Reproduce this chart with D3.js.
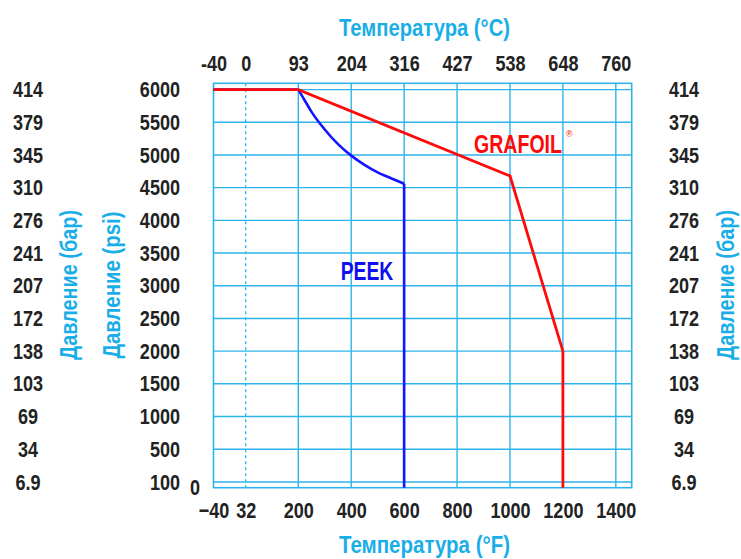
<!DOCTYPE html>
<html>
<head>
<meta charset="utf-8">
<script src="https://cdn.jsdelivr.net/npm/d3@7"></script>
<style>
body { margin: 0; background: #fff; }
text { font-family: "Liberation Sans", Arial, sans-serif; font-weight: bold; }
</style>
</head>
<body>
<div id="chart"></div>
<script>
// temperature ticks (F) and matching celsius labels on top
var temp_f_ticks = [-40, 32, 200, 400, 600, 800, 1000, 1200, 1400];
var temp_c_labels = ["-40", "0", "93", "204", "316", "427", "538", "648", "760"];

// pressure ticks (psi) and matching bar labels
var psi_ticks = [6000, 5500, 5000, 4500, 4000, 3500, 3000, 2500, 2000, 1500, 1000, 500, 100];
var bar_labels = ["414", "379", "345", "310", "276", "241", "207", "172", "138", "103", "69", "34", "6.9"];

// GRAFOIL limit
var grafoil_f = [-40, 200, 1000, 1200, 1200];
var grafoil_psi = [6000, 6000, 4680, 2000, 0];

// PEEK limit
var peek_f = [-40, 200, 225, 250, 300, 350, 400, 450, 500, 550, 600, 600];
var peek_psi = [6000, 6000, 5830, 5660, 5390, 5165, 4990, 4850, 4735, 4645, 4560, 0];

var width = 741;
var height = 559;
var grid_color = "#2cb4ea";
var title_color = "#1aaee8";
var label_color = "#222";
var narrow = "scale(0.82,1)";

var svg = d3.select("#chart").append("svg")
    .attr("width", width)
    .attr("height", height);

// x axis is not linear below 200F, y axis not linear below 500 psi
var x = d3.scaleLinear().domain([-40, 32, 200, 1460]).range([213.5, 245.7, 298.3, 631.7]);
var y = d3.scaleLinear().domain([0, 100, 500, 6000, 6095]).range([487.7, 482, 449.2, 89.6, 83.3]);

//grid
var vgrid = temp_f_ticks.filter(function(d){ return d >= 200; });
svg.selectAll(".vgrid")
    .data(vgrid)
    .enter()
    .append("line")
    .attr("x1", function(d){ return x(d); })
    .attr("x2", function(d){ return x(d); })
    .attr("y1", y(6095))
    .attr("y2", y(0))
    .style("stroke", grid_color)
    .style("stroke-width", 1.4);

svg.append("line")
    .attr("x1", x(32))
    .attr("x2", x(32))
    .attr("y1", y(6095))
    .attr("y2", y(0))
    .style("stroke", grid_color)
    .style("stroke-width", 1.3)
    .style("stroke-dasharray", "3,3");

svg.selectAll(".hgrid")
    .data(psi_ticks)
    .enter()
    .append("line")
    .attr("x1", x(-40))
    .attr("x2", x(1460))
    .attr("y1", function(d){ return y(d); })
    .attr("y2", function(d){ return y(d); })
    .style("stroke", grid_color)
    .style("stroke-width", 1.4);

svg.append("rect")
    .attr("x", x(-40))
    .attr("y", y(6095))
    .attr("width", x(1460) - x(-40))
    .attr("height", y(0) - y(6095))
    .attr("fill", "none")
    .style("stroke", grid_color)
    .style("stroke-width", 1.6);

// limit lines
var line = d3.line()
    .x(function(d){ return x(d[0]); })
    .y(function(d){ return y(d[1]); });
var curve = d3.line()
    .x(function(d){ return x(d[0]); })
    .y(function(d){ return y(d[1]); })
    .curve(d3.curveMonotoneX);

var peek = d3.zip(peek_f, peek_psi);
var n = peek.length;
var peek_parts = [line(peek.slice(0, 2)), curve(peek.slice(1, n - 1)), line(peek.slice(n - 2))];
svg.selectAll(".peek")
    .data(peek_parts)
    .enter()
    .append("path")
    .attr("d", function(d){ return d; })
    .attr("fill", "none")
    .style("stroke", "#1414ff")
    .style("stroke-width", 2.6);

svg.append("path")
    .attr("d", line(d3.zip(grafoil_f, grafoil_psi)))
    .attr("fill", "none")
    .style("stroke", "#ff0a0a")
    .style("stroke-width", 2.8);

// axes
function style_axis(g) {
    g.select(".domain").remove();
    g.selectAll("text")
        .style("font-size", "22px")
        .attr("fill", label_color)
        .attr("transform", narrow);
}

svg.append("g")
    .attr("transform", "translate(0," + y(6095) + ")")
    .call(d3.axisTop(x).tickValues(temp_f_ticks).tickSize(0).tickPadding(12)
        .tickFormat(function(d, i){ return temp_c_labels[i]; }))
    .call(style_axis);

svg.append("g")
    .attr("transform", "translate(0," + y(0) + ")")
    .call(d3.axisBottom(x).tickValues(temp_f_ticks).tickSize(0).tickPadding(15)
        .tickFormat(d3.format("d")))
    .call(style_axis);

svg.append("g")
    .attr("transform", "translate(180,0)")
    .call(d3.axisLeft(y).tickValues(psi_ticks).tickSize(0).tickPadding(0)
        .tickFormat(d3.format("d")))
    .call(style_axis);

var bar_axis = d3.axisLeft(y).tickValues(psi_ticks).tickSize(0).tickPadding(0)
    .tickFormat(function(d, i){ return bar_labels[i]; });

svg.append("g")
    .attr("transform", "translate(28,0)")
    .call(bar_axis)
    .call(style_axis)
    .selectAll("text").attr("text-anchor", "middle").attr("x", 0);

svg.append("g")
    .attr("transform", "translate(684,0)")
    .call(bar_axis)
    .call(style_axis)
    .selectAll("text").attr("text-anchor", "middle").attr("x", 0);

svg.append("text")
    .attr("transform", "translate(195," + y(0) + ") " + narrow)
    .attr("dy", "0.32em")
    .attr("text-anchor", "middle")
    .style("font-size", "22px")
    .attr("fill", label_color)
    .text("0");

// titles
var titles = [{'x': 424.5, 'y': 35.5, 'r': 0, 'len': 171, 'text': "Температура (°C)"},
    {'x': 424.5, 'y': 553, 'r': 0, 'len': 171, 'text': "Температура (°F)"},
    {'x': 77, 'y': 285, 'r': -90, 'len': 150, 'text': "Давление (бар)"},
    {'x': 120, 'y': 285, 'r': -90, 'len': 147, 'text': "Давление (psi)"},
    {'x': 734, 'y': 285, 'r': -90, 'len': 150, 'text': "Давление (бар)"}];

svg.selectAll(".title")
    .data(titles)
    .enter()
    .append("text")
    .attr("transform", function(d){ return "translate(" + d.x + "," + d.y + ") rotate(" + d.r + ")"; })
    .attr("x", function(d){ return -d.len / 2; })
    .attr("textLength", function(d){ return d.len; })
    .attr("lengthAdjust", "spacingAndGlyphs")
    .style("font-size", "23px")
    .attr("fill", title_color)
    .text(function(d){ return d.text; });

// series labels
svg.append("text")
    .attr("x", 340.7)
    .attr("y", 280)
    .attr("textLength", 52.6)
    .attr("lengthAdjust", "spacingAndGlyphs")
    .style("font-size", "25px")
    .attr("fill", "#1010ee")
    .text("PEEK");

svg.append("text")
    .attr("x", 474)
    .attr("y", 153.3)
    .attr("textLength", 88)
    .attr("lengthAdjust", "spacingAndGlyphs")
    .style("font-size", "25px")
    .attr("fill", "#ff0a0a")
    .text("GRAFOIL");

svg.append("text")
    .attr("x", 566)
    .attr("y", 137)
    .style("font-size", "9px")
    .style("font-weight", "normal")
    .attr("fill", "#ff0a0a")
    .text("®");
</script>
</body>
</html>
